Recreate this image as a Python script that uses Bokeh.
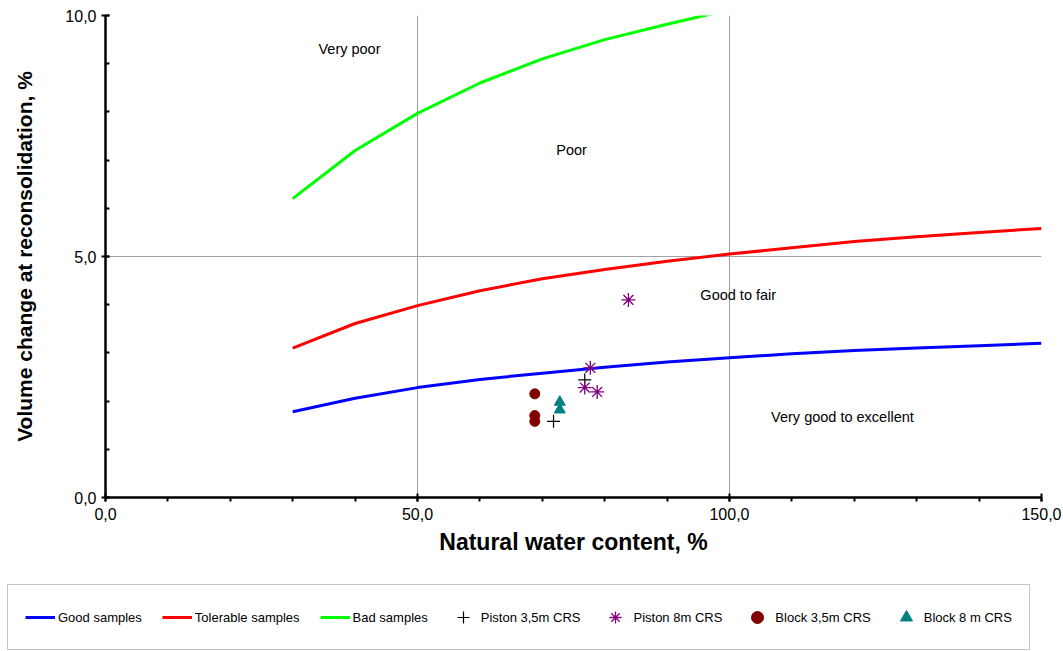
from bokeh.plotting import figure
from bokeh.models import (Range1d, SingleIntervalTicker, CustomJSTickFormatter,
                          Legend, LegendItem, ColumnDataSource)
from bokeh.core.properties import value
from bokeh.embed import file_html
from bokeh.resources import INLINE

# ---- data ----
curve_x = [30, 40, 50, 60, 70, 80, 90, 100, 110, 120, 130, 140, 150]
good_y = [1.78, 2.06, 2.28, 2.45, 2.58, 2.70, 2.81, 2.90, 2.98, 3.05, 3.10, 3.15, 3.20]
tolerable_y = [3.10, 3.61, 3.98, 4.29, 4.54, 4.73, 4.90, 5.05, 5.18, 5.31, 5.41, 5.50, 5.58]
bad_x = [30, 40, 50, 60, 70, 80, 90, 100]
bad_y = [6.20, 7.20, 7.97, 8.60, 9.10, 9.50, 9.82, 10.12]

piston35_x = [76.8, 71.8]
piston35_y = [2.44, 1.58]
piston8_x = [83.8, 77.7, 76.8, 78.8]
piston8_y = [4.10, 2.69, 2.28, 2.19]
block35_x = [68.8, 68.8, 68.8]
block35_y = [2.15, 1.70, 1.58]
block8_x = [72.8, 72.8]
block8_y = [1.98, 1.82]

series_names = ["Good samples", "Tolerable samples", "Bad samples",
                "Piston 3,5m CRS", "Piston 8m CRS", "Block 3,5m CRS", "Block 8 m CRS"]

zone_labels = ["Very poor", "Poor", "Good to fair", "Very good to excellent"]
zone_x = [39.1, 74.7, 101.4, 118.1]
zone_y = [9.30, 7.20, 4.21, 1.66]

FONT = "Liberation Sans"


def draw_series(fig, k=1.0):
    rs = []
    rs.append(fig.line(curve_x, good_y, line_color="#0000FF", line_width=3))
    rs.append(fig.line(curve_x, tolerable_y, line_color="#FF0000", line_width=3))
    rs.append(fig.line(bad_x, bad_y, line_color="#00FF00", line_width=3))
    rs.append(fig.scatter(piston35_x, piston35_y, marker="cross", size=13 * k,
                          line_color="black", line_width=1.2))
    rs.append(fig.scatter(piston8_x, piston8_y, marker="asterisk", size=14 * k,
                          line_color="#800080", line_width=1.3))
    rs.append(fig.scatter(block35_x, block35_y, marker="circle", size=10 * k,
                          fill_color="#800000", line_color="#800000"))
    rs.append(fig.scatter(block8_x, block8_y, marker="triangle", size=11 * k,
                          fill_color="#008080", line_color="#008080"))
    return rs


p = figure(width=1063, height=575, output_backend="svg", toolbar_location=None,
           x_range=Range1d(0, 150), y_range=Range1d(0, 10),
           min_border_left=105, min_border_right=22, min_border_top=15,
           min_border_bottom=78)
p.outline_line_color = None
p.background_fill_color = "white"
p.border_fill_color = "white"

# axes
p.xaxis.ticker = SingleIntervalTicker(interval=50, num_minor_ticks=5)
p.yaxis.ticker = SingleIntervalTicker(interval=5, num_minor_ticks=5)
fmt = CustomJSTickFormatter(code="return tick.toFixed(1).replace('.', ',');")
p.xaxis.formatter = fmt
p.yaxis.formatter = fmt
for ax in (p.xaxis[0], p.yaxis[0]):
    ax.axis_line_width = 2.5
    ax.axis_line_color = "black"
    ax.major_tick_line_color = "black"
    ax.major_tick_line_width = 2
    ax.minor_tick_line_color = "black"
    ax.minor_tick_line_width = 2
    ax.major_tick_in = 4
    ax.major_tick_out = 4
    ax.major_label_text_font = FONT
    ax.major_label_text_font_size = "16px"
    ax.major_label_text_color = "black"
    ax.axis_label_text_font = FONT
    ax.axis_label_text_font_style = "bold"
    ax.axis_label_text_color = "black"
p.xaxis.minor_tick_in = 0
p.xaxis.minor_tick_out = 4
p.yaxis.minor_tick_in = 4
p.yaxis.minor_tick_out = 0
p.xaxis.axis_label = "Natural water content, %"
p.yaxis.axis_label = "Volume change at reconsolidation, %"
p.xaxis.axis_label_text_font_size = "23px"
p.yaxis.axis_label_text_font_size = "21px"
p.xaxis.major_label_standoff = 6
p.yaxis.major_label_standoff = 5
p.xaxis.axis_label_standoff = 6
p.yaxis.axis_label_standoff = 26

p.grid.grid_line_color = "#a0a0a0"
p.grid.grid_line_width = 1

draw_series(p)

# zone labels
src = ColumnDataSource(dict(x=zone_x, y=zone_y, t=zone_labels))
p.text(x="x", y="y", text="t", source=src, text_font=value(FONT),
       text_font_size="14.5px", text_color="black",
       text_align="center", text_baseline="middle")

# ---- legend strip (same series, drawn outside its view range) ----
lg = figure(width=1063, height=76, output_backend="svg", toolbar_location=None,
            x_range=Range1d(0, 150), y_range=Range1d(100, 110),
            x_axis_location=None, y_axis_location=None,
            min_border=0, min_border_left=0, min_border_right=0,
            min_border_top=0, min_border_bottom=0)
lg.grid.visible = False
lg.outline_line_color = None
lg.background_fill_color = "white"
lg.border_fill_color = "white"
lg_rs = draw_series(lg, k=0.72)

legend = Legend(items=[LegendItem(label=n, renderers=[r]) for n, r in zip(series_names, lg_rs)],
                orientation="horizontal", location=(7, 1))
legend.label_text_font = FONT
legend.label_text_font_size = "13px"
legend.label_text_color = "black"
legend.glyph_width = 30
legend.glyph_height = 30
legend.label_height = 30
legend.label_standoff = 3
legend.padding = 17
legend.spacing = 20
legend.margin = 0
legend.border_line_color = "#8c8c8c"
legend.border_line_width = 1
legend.background_fill_color = "white"
legend.background_fill_alpha = 1
lg.add_layout(legend, "center")

open("out.html", "w").write(file_html([p, lg], INLINE))
